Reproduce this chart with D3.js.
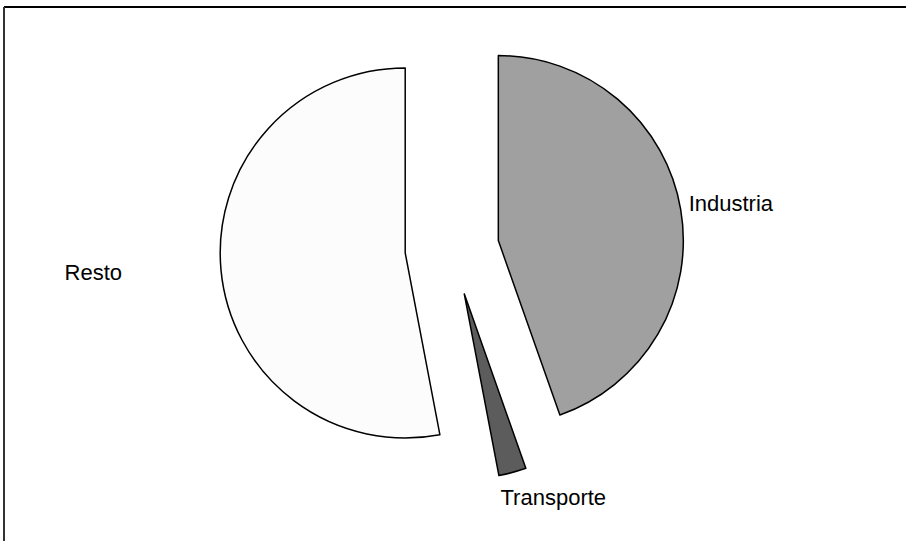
<!DOCTYPE html>
<html>
<head>
<meta charset="utf-8">
<script src="https://cdn.jsdelivr.net/npm/d3@7"></script>
<style>
  body { margin: 0; background: #fff; }
  .label { font-family: "Liberation Sans", Arial, sans-serif; font-size: 22px; fill: #000; }
</style>
</head>
<body>
<div class="pie-chart"></div>
<script>
// data (shares in %)
var categories = ["Industria", "Transporte", "Resto"];
var shares = [44.6, 2.4, 53.0];

// styles, one per slice
var fills = ["#a0a0a0", "#5c5c5c", "#fcfcfc"];
// label nudges from the outer arc point, with anchor
var labelNudge = [
  {dx: 8, dy: 2, anchor: "start"},
  {dx: -12, dy: 33, anchor: "start"},
  {dx: -99, dy: 10, anchor: "end"}
];

var width = 906, height = 541;
var cx = 452, cy = 248.5, radius = 185, explode = 47;

var svg = d3.select(".pie-chart").append("svg")
    .attr("width", width)
    .attr("height", height);

// frame, only top and left edges show
svg.append("line")
    .attr("x1", 4).attr("y1", 7).attr("x2", width).attr("y2", 7)
    .style("stroke", "#000").style("stroke-width", "2px");
svg.append("line")
    .attr("x1", 4).attr("y1", 7).attr("x2", 4).attr("y2", height)
    .style("stroke", "#333").style("stroke-width", "2px");

var pie = d3.pie().sort(null).value(function(d) { return d; });
var arc = d3.arc().innerRadius(0).outerRadius(radius);
var arcs = pie(shares);

var g = svg.append("g")
    .attr("transform", `translate(${cx}, ${cy})`);

arcs.forEach(function(a, i) {
    var mid = (a.startAngle + a.endAngle) / 2;
    var ox = Math.sin(mid) * explode, oy = -Math.cos(mid) * explode;

    g.append("path")
        .attr("transform", `translate(${ox}, ${oy})`)
        .attr("d", arc(a))
        .style("fill", fills[i])
        .style("stroke", "#000")
        .style("stroke-width", "1.5px")
        .style("stroke-linejoin", "round");

    // point on the outer arc at the middle angle
    var px = ox + Math.sin(mid) * radius, py = oy - Math.cos(mid) * radius;
    g.append("text")
        .attr("class", "label")
        .attr("x", px + labelNudge[i].dx)
        .attr("y", py + labelNudge[i].dy)
        .style("text-anchor", labelNudge[i].anchor)
        .text(categories[i]);
});
</script>
</body>
</html>
